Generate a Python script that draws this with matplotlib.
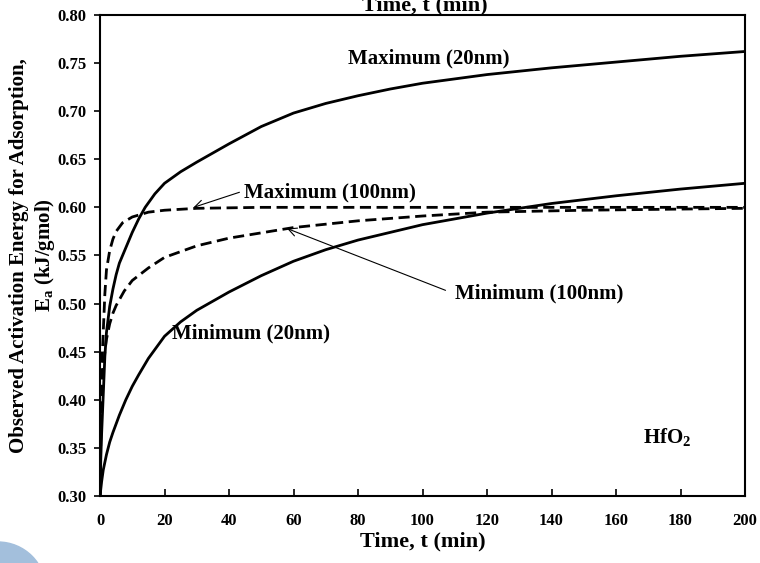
import matplotlib
matplotlib.use('Agg')
import matplotlib.pyplot as plt
from matplotlib.patches import Ellipse

plt.rcParams['font.family'] = 'Liberation Serif'
plt.rcParams['font.weight'] = 'bold'
plt.rcParams['mathtext.fontset'] = 'custom'
plt.rcParams['mathtext.rm'] = 'Liberation Serif:bold'
plt.rcParams['mathtext.it'] = 'Liberation Serif:bold'
plt.rcParams['mathtext.bf'] = 'Liberation Serif:bold'
plt.rcParams['mathtext.default'] = 'rm'

# Maximum (20nm), solid
t_max20 = [0, 0.25, 0.5, 1, 1.5, 2, 3, 4, 5, 6, 8, 10, 12, 14, 17, 20, 25, 30, 40, 50, 60, 70, 80, 90, 100, 120, 140, 160, 180, 200]
e_max20 = [0.30, 0.34, 0.365, 0.405, 0.445, 0.47, 0.497, 0.515, 0.53, 0.542, 0.558, 0.574, 0.588, 0.600, 0.614, 0.625, 0.637, 0.647, 0.666, 0.684, 0.698, 0.708, 0.716, 0.723, 0.729, 0.738, 0.745, 0.751, 0.757, 0.762]

# Minimum (20nm), solid
t_min20 = [0, 0.5, 1, 2, 3, 4, 5, 6, 8, 10, 12, 15, 20, 25, 30, 40, 50, 60, 70, 80, 100, 120, 140, 160, 180, 200]
e_min20 = [0.30, 0.315, 0.327, 0.343, 0.356, 0.366, 0.375, 0.384, 0.400, 0.414, 0.426, 0.443, 0.466, 0.481, 0.493, 0.512, 0.529, 0.544, 0.556, 0.566, 0.582, 0.594, 0.604, 0.612, 0.619, 0.625]

# Maximum (100nm), dashed
t_max100 = [0, 0.25, 0.5, 1, 1.5, 2, 3, 4, 5, 7, 10, 12, 15, 20, 30, 50, 100, 150, 200]
e_max100 = [0.30, 0.38, 0.43, 0.47, 0.51, 0.535, 0.555, 0.567, 0.575, 0.584, 0.590, 0.592, 0.595, 0.597, 0.599, 0.600, 0.600, 0.600, 0.600]

# Minimum (100nm), dashed
t_min100 = [0, 0.25, 0.5, 1, 1.5, 2, 3, 4, 5, 7.5, 10, 15, 20, 30, 40, 60, 80, 100, 120, 150, 200]
e_min100 = [0.30, 0.36, 0.40, 0.43, 0.45, 0.463, 0.479, 0.49, 0.498, 0.513, 0.524, 0.537, 0.548, 0.560, 0.568, 0.579, 0.586, 0.591, 0.595, 0.597, 0.599]

fig = plt.figure(figsize=(7.6, 5.63), dpi=100)
ax = fig.add_axes([0.1316, 0.119, 0.8487, 0.8545])

ax.plot(t_max20, e_max20, color='black', lw=2.0)
ax.plot(t_min20, e_min20, color='black', lw=2.0)
ax.plot(t_max100, e_max100, color='black', lw=2.0, dashes=(4, 2))
ax.plot(t_min100, e_min100, color='black', lw=2.0, dashes=(4, 2))

ax.set_xlim(0, 200)
ax.set_ylim(0.30, 0.80)
ax.set_xticks(range(0, 201, 20))
ax.set_yticks([0.30, 0.35, 0.40, 0.45, 0.50, 0.55, 0.60, 0.65, 0.70, 0.75, 0.80])
ax.set_yticklabels(['%.2f' % v for v in ax.get_yticks()])
ax.tick_params(axis='x', direction='in', length=5, width=1.2, labelsize=12, pad=12)
ax.tick_params(axis='y', direction='out', length=4, width=1.2, labelsize=12, pad=6)
for s in ax.spines.values():
    s.set_linewidth(1.5)

ax.set_xlabel('Time, t (min)', fontsize=16, fontweight='bold', labelpad=2)
ax.set_ylabel('Observed Activation Energy for Adsorption,\nE$_a$ (kJ/gmol)',
              fontsize=15, fontweight='bold', linespacing=1.2)
ax.yaxis.set_label_coords(-0.067, 0.5)

ax.text(102, 0.755, 'Maximum (20nm)', fontsize=15, ha='center', va='center')
ax.text(46.8, 0.469, 'Minimum (20nm)', fontsize=15, ha='center', va='center')
ax.text(175.8, 0.361, 'HfO$_2$', fontsize=15, ha='center', va='center')

ax.annotate('Maximum (100nm)', xy=(29, 0.600), xytext=(44.5, 0.615),
            fontsize=15, ha='left', va='center',
            arrowprops=dict(arrowstyle='->', color='black', lw=0.8, relpos=(0, 0.6),
                            shrinkA=1, shrinkB=0))
ax.annotate('Minimum (100nm)', xy=(58, 0.578), xytext=(110, 0.510),
            fontsize=15, ha='left', va='center',
            arrowprops=dict(arrowstyle='->', color='black', lw=0.8, relpos=(0, 0.5),
                            shrinkA=5, shrinkB=0))

# cut-off title at the top edge
fig.text(0.559, 1 - 10 / 563, 'Time, t (min)', fontsize=16, fontweight='bold',
         ha='center', va='baseline')

# decorative circle at bottom-left
fig.patches.append(Ellipse((-2 / 760, -27 / 563), 96 / 760, 96 / 563,
                           transform=fig.transFigure, color='#a3bfdc', zorder=0))

fig.savefig('out.png', dpi=100)
